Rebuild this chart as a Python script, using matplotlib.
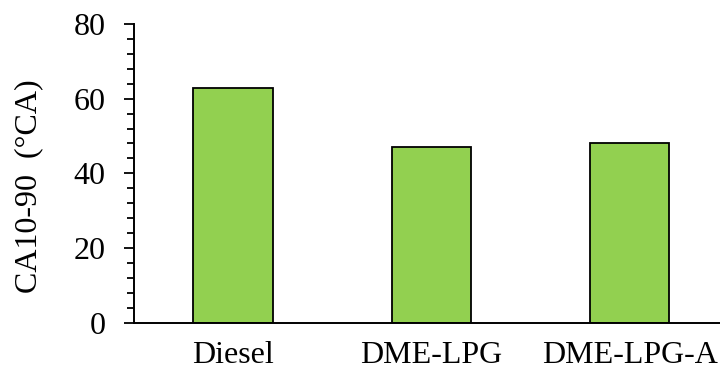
import matplotlib
matplotlib.use("Agg")
import matplotlib.pyplot as plt
from matplotlib.ticker import MultipleLocator

categories = ["Diesel", "DME-LPG", "DME-LPG-A"]
ca10_90 = [63, 47, 48]

plt.rcParams["font.family"] = ["Liberation Serif", "DejaVu Serif"]

fig = plt.figure(figsize=(7.2, 3.76), dpi=100)
ax = fig.add_axes([0.186, 0.142, 0.814, 0.794])

x = list(range(len(categories)))
ax.bar(x, ca10_90, width=0.4, color="#92D050", edgecolor="black", linewidth=1.3, zorder=2)

ax.set_xlim(-0.5, 2.455)
ax.set_ylim(0, 80)
ax.yaxis.set_major_locator(MultipleLocator(20))
ax.yaxis.set_minor_locator(MultipleLocator(4))
ax.set_xticks(x)
ax.set_xticklabels(categories)
ax.tick_params(axis="x", length=0, pad=13, labelsize=23)
ax.tick_params(axis="y", which="major", direction="out", length=7.5, width=1.3, labelsize=23, pad=13)
ax.tick_params(axis="y", which="minor", direction="out", length=5.2, width=1.3)

for side in ("top", "right"):
    ax.spines[side].set_visible(False)
for side in ("left", "bottom"):
    ax.spines[side].set_linewidth(1.4)

ax.set_ylabel("CA10-90  (°CA)", fontsize=23, va="center")
ax.yaxis.set_label_coords(-0.179, 0.456)

fig.savefig("out.png", dpi=100)
